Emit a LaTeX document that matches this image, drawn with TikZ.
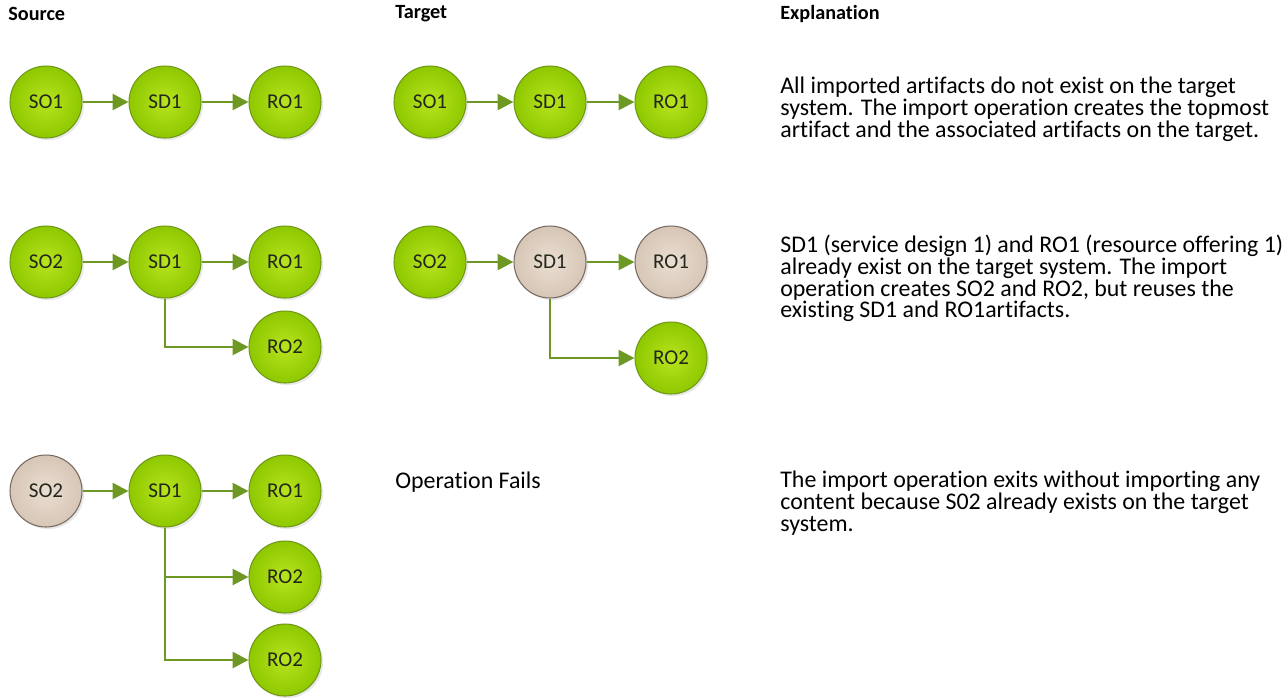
\documentclass[tikz,border=0pt]{standalone}
\usepackage{fontspec}
\setmainfont{Carlito}[Ligatures=NoCommon]
\usetikzlibrary{arrows.meta,shadows}
\definecolor{leafin}{RGB}{184,228,30}
\definecolor{leafout}{RGB}{142,200,0}
\definecolor{leafrim}{RGB}{112,152,24}
\definecolor{sandin}{RGB}{234,222,210}
\definecolor{sandout}{RGB}{214,198,182}
\definecolor{sandrim}{RGB}{120,106,96}
\definecolor{linkcol}{RGB}{110,152,36}
\definecolor{inkcol}{RGB}{36,40,28}

\tikzset{
	art/.style={circle,minimum size=1.44cm,inner sep=0pt,line width=0.6pt,
		font=\fontsize{12}{14}\selectfont,text=inkcol,
		drop shadow={opacity=0.18,shadow xshift=1.2pt,shadow yshift=-1.2pt}},
	newart/.style={art,draw=leafrim,inner color=leafin,outer color=leafout},
	oldart/.style={art,draw=sandrim,inner color=sandin,outer color=sandout},
	link/.style={draw=linkcol,line width=1.6pt,-{Triangle[length=9pt,width=9pt]}},
	head/.style={anchor=west,inner sep=0pt,font=\fontsize{11.5}{12.2}\selectfont\bfseries},
	note/.style={anchor=north west,inner sep=0pt,align=left,font=\fontsize{13.6}{12.3}\selectfont}
}

\begin{document}
\begin{tikzpicture}[x=0.02cm,y=-0.02cm]
		\useasboundingbox (0,0) rectangle (1288,698);
		\node[head] (hsrc) at (8,14) {Source};
		\node[head] (htgt) at (395,14) {Target};
		\node[head] (hexp) at (780,14) {Explanation};

		\node[newart] (aso) at (46,102) {SO1};
		\node[newart] (asd) at (165,102) {SD1};
		\node[newart] (aro) at (285,102) {RO1};
		\draw[link] (aso) -- (asd);
		\draw[link] (asd) -- (aro);
		\node[newart] (bso) at (430,102) {SO1};
		\node[newart] (bsd) at (550,102) {SD1};
		\node[newart] (bro) at (671,102) {RO1};
		\draw[link] (bso) -- (bsd);
		\draw[link] (bsd) -- (bro);
		\node[note] (nexa) at (780,77) {All imported artifacts do not exist on the target\\system. The import operation creates the topmost\\artifact and the associated artifacts on the target.};

		\node[newart] (cso) at (46,262) {SO2};
		\node[newart] (csd) at (165,262) {SD1};
		\node[newart] (cro) at (285,262) {RO1};
		\node[newart] (crt) at (285,347) {RO2};
		\draw[link] (cso) -- (csd);
		\draw[link] (csd) -- (cro);
		\draw[link] (csd.south) |- (crt);
		\node[newart] (dso) at (430,262) {SO2};
		\node[oldart] (dsd) at (550,262) {SD1};
		\node[oldart] (dro) at (671,262) {RO1};
		\node[newart] (drt) at (671,358) {RO2};
		\draw[link] (dso) -- (dsd);
		\draw[link] (dsd) -- (dro);
		\draw[link] (dsd.south) |- (drt);
		\node[note] (nexb) at (780,235) {SD1 (service design 1) and RO1 (resource offering 1)\\already exist on the target system. The import\\operation creates SO2 and RO2, but reuses the\\existing SD1 and RO1artifacts.};

		\node[oldart] (eso) at (46,491) {SO2};
		\node[newart] (esd) at (165,491) {SD1};
		\node[newart] (ero) at (285,491) {RO1};
		\node[newart] (ert) at (285,577) {RO2};
		\node[newart] (eru) at (285,660) {RO2};
		\draw[link] (eso) -- (esd);
		\draw[link] (esd) -- (ero);
		\draw[link] (esd.south) |- (ert);
		\draw[link] (esd.south) |- (eru);
		\node[anchor=west,inner sep=0pt,font=\fontsize{13.6}{12.3}\selectfont] (fail) at (395,482) {Operation Fails};
		\node[note] (nexc) at (780,471) {The import operation exits without importing any\\content because S02 already exists on the target\\system.};
	\end{tikzpicture}
\end{document}
